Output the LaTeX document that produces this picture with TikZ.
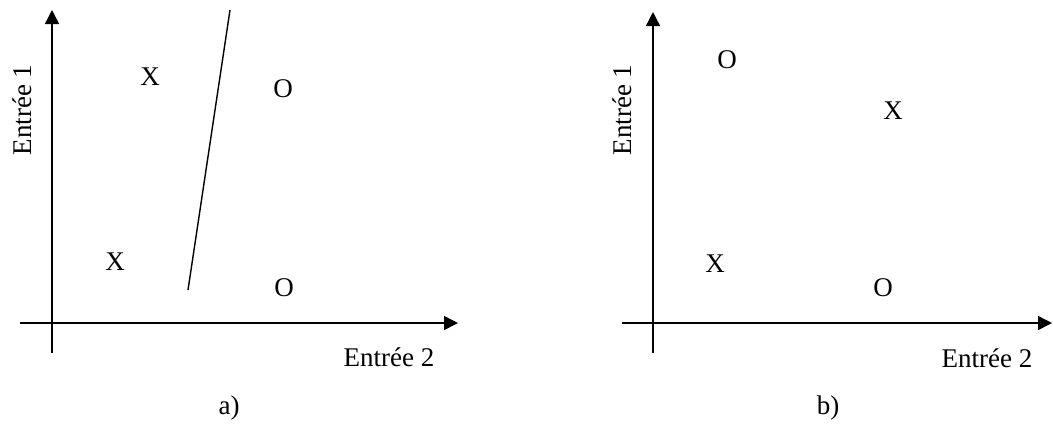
\documentclass[tikz,border=0pt]{standalone}
\usepackage{fontspec}
\setmainfont{Liberation Serif}
\usepackage{tikz}
\usetikzlibrary{positioning, arrows.meta, calc}

\begin{document}
\begin{tikzpicture}[
    x=0.5pt, y=-0.5pt,
    every node/.style={font=\fontsize{13.5}{16}\selectfont},
    axis/.style={-{Triangle[length=7pt, width=7pt]}, line width=0.7pt},
    cut/.style={line width=0.7pt},
    pt/.style={inner sep=0pt},
]
\useasboundingbox (0,0) rectangle (1053,441);

% a) separable case
\coordinate (ax0) at (20,323);
\coordinate (axx) at (458,323);
\coordinate (ay0) at (52,353);
\coordinate (ayy) at (52,10);
\draw[axis] (ax0) -- (axx);
\draw[axis] (ay0) -- (ayy);
\node[rotate=90] (ain1) at (22,110) {Entrée 1};
\node (ain2) at (389,357) {Entrée 2};
\node[pt] (ax1) at (150,77) {X};
\node[pt] (ao1) at (283,89) {O};
\node[pt] (ax2) at (115,262) {X};
\node[pt] (ao2) at (284,288) {O};
\coordinate (sepa) at (188,290);
\coordinate (sepb) at (230,10);
\draw[cut] (sepa) -- (sepb);
\node (lbla) at (229,408) {a)};

% b) XOR case
\coordinate (bx0) at (622,323);
\coordinate (bxx) at (1052,323);
\coordinate (by0) at (653,353);
\coordinate (byy) at (653,12);
\draw[axis] (bx0) -- (bxx);
\draw[axis] (by0) -- (byy);
\node[rotate=90] (bin1) at (622,110) {Entrée 1};
\node (bin2) at (987,358) {Entrée 2};
\node[pt] (bo1) at (727,60) {O};
\node[pt] (bx1) at (893,111) {X};
\node[pt] (bx2) at (715,264) {X};
\node[pt] (bo2) at (883,288) {O};
\node (lblb) at (828,408) {b)};
\end{tikzpicture}
\end{document}
